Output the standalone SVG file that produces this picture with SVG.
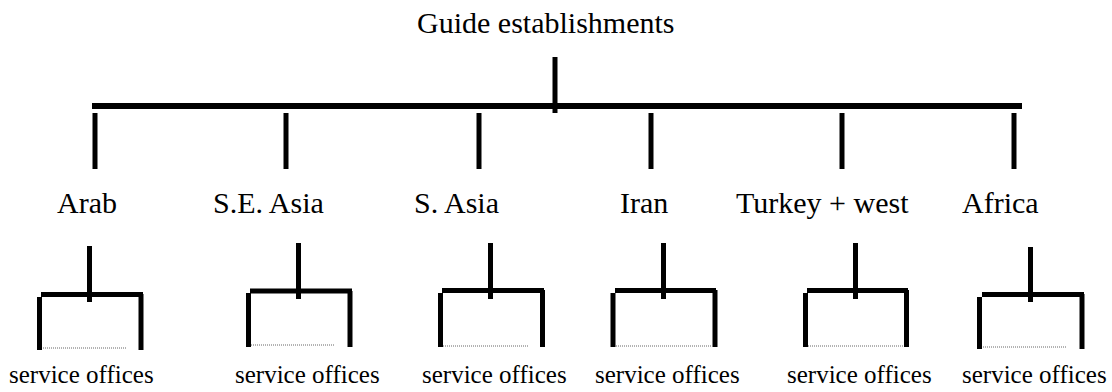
<svg xmlns="http://www.w3.org/2000/svg" width="1112" height="392" viewBox="0 0 1112 392">
  <style>
    .bg { fill: #ffffff; }
    .label { font-family: "Liberation Serif", "Times New Roman", Times, serif; fill: #000000; }
    .head { font-size: 30px; }
    .region { font-size: 30px; }
    .office { font-size: 25px; }
    .bar { stroke: #000000; stroke-width: 5; stroke-linecap: butt; fill: none; }
    .trunk { stroke: #000000; stroke-width: 6; stroke-linecap: butt; fill: none; }
    .dots { stroke: #666666; stroke-width: 1; stroke-dasharray: 1 1; fill: none; }
  </style>

  <rect class="bg" x="0" y="0" width="1112" height="392"/>

  <!-- connectors: main trunk, regional branches and office brackets -->
  <g id="connectors">
    <line class="bar" x1="555" y1="57" x2="555" y2="113"/>
    <line class="trunk" x1="92" y1="106" x2="1022" y2="106"/>

    <line class="bar" x1="95" y1="113" x2="95" y2="169"/>
    <line class="bar" x1="286" y1="113" x2="286" y2="169"/>
    <line class="bar" x1="479" y1="113" x2="479" y2="169"/>
    <line class="bar" x1="651" y1="113" x2="651" y2="169"/>
    <line class="bar" x1="842" y1="113" x2="842" y2="169"/>
    <line class="bar" x1="1014" y1="113" x2="1014" y2="169"/>

    <!-- Arab offices -->
    <g id="bracket-arab">
      <line class="bar" x1="89.5" y1="246" x2="89.5" y2="302"/>
      <line class="bar" x1="41" y1="294.5" x2="143" y2="294.5"/>
      <line class="bar" x1="39.5" y1="297" x2="39.5" y2="350"/>
      <line class="bar" x1="141" y1="294" x2="141" y2="350"/>
      <line class="dots" x1="43" y1="348" x2="126" y2="348"/>
    </g>
    <!-- S.E. Asia offices -->
    <g id="bracket-seasia">
      <line class="bar" x1="298.5" y1="243" x2="298.5" y2="299"/>
      <line class="bar" x1="250" y1="291" x2="352" y2="291"/>
      <line class="bar" x1="248.5" y1="293" x2="248.5" y2="347"/>
      <line class="bar" x1="350" y1="291" x2="350" y2="347"/>
      <line class="dots" x1="251" y1="345" x2="335" y2="345"/>
    </g>
    <!-- S. Asia offices -->
    <g id="bracket-sasia">
      <line class="bar" x1="490.5" y1="243" x2="490.5" y2="299"/>
      <line class="bar" x1="442" y1="290.5" x2="544" y2="290.5"/>
      <line class="bar" x1="440.5" y1="293" x2="440.5" y2="347"/>
      <line class="bar" x1="542.5" y1="290" x2="542.5" y2="347"/>
      <line class="dots" x1="443" y1="346" x2="529" y2="346"/>
    </g>
    <!-- Iran offices -->
    <g id="bracket-iran">
      <line class="bar" x1="663.5" y1="243" x2="663.5" y2="299"/>
      <line class="bar" x1="615" y1="290.5" x2="716" y2="290.5"/>
      <line class="bar" x1="613" y1="293" x2="613" y2="347"/>
      <line class="bar" x1="715" y1="290" x2="715" y2="347"/>
      <line class="dots" x1="616" y1="346" x2="712" y2="346"/>
    </g>
    <!-- Turkey + west offices -->
    <g id="bracket-turkey">
      <line class="bar" x1="855.5" y1="243" x2="855.5" y2="299"/>
      <line class="bar" x1="807" y1="290.5" x2="908" y2="290.5"/>
      <line class="bar" x1="805.5" y1="293" x2="805.5" y2="347"/>
      <line class="bar" x1="906.5" y1="290" x2="906.5" y2="347"/>
      <line class="dots" x1="808" y1="346" x2="904" y2="346"/>
    </g>
    <!-- Africa offices -->
    <g id="bracket-africa">
      <line class="bar" x1="1030.5" y1="247" x2="1030.5" y2="302"/>
      <line class="bar" x1="982" y1="294.5" x2="1084" y2="294.5"/>
      <line class="bar" x1="979.5" y1="297" x2="979.5" y2="349"/>
      <line class="bar" x1="1082" y1="294" x2="1082" y2="349"/>
      <line class="dots" x1="983" y1="347" x2="1067" y2="347"/>
    </g>
  </g>

  <g font-family="'Liberation Serif', 'Times New Roman', Times, serif">
    <!-- top node -->
    <g id="node-guide">
      <text class="label head" x="417" y="33">Guide establishments</text>
    </g>

    <!-- regional nodes -->
    <g id="node-arab"><text class="label region" x="57" y="213">Arab</text></g>
    <g id="node-seasia"><text class="label region" x="213" y="213">S.E. Asia</text></g>
    <g id="node-sasia"><text class="label region" x="414" y="213">S. Asia</text></g>
    <g id="node-iran"><text class="label region" x="620" y="213">Iran</text></g>
    <g id="node-turkey"><text class="label region" x="736" y="213">Turkey + west</text></g>
    <g id="node-africa"><text class="label region" x="962" y="213">Africa</text></g>

    <!-- office nodes -->
    <g id="offices-arab"><text class="label office" x="9" y="383">service offices</text></g>
    <g id="offices-seasia"><text class="label office" x="235" y="383">service offices</text></g>
    <g id="offices-sasia"><text class="label office" x="422" y="383">service offices</text></g>
    <g id="offices-iran"><text class="label office" x="595" y="383">service offices</text></g>
    <g id="offices-turkey"><text class="label office" x="787" y="383">service offices</text></g>
    <g id="offices-africa"><text class="label office" x="962" y="383">service offices</text></g>
  </g>
</svg>
